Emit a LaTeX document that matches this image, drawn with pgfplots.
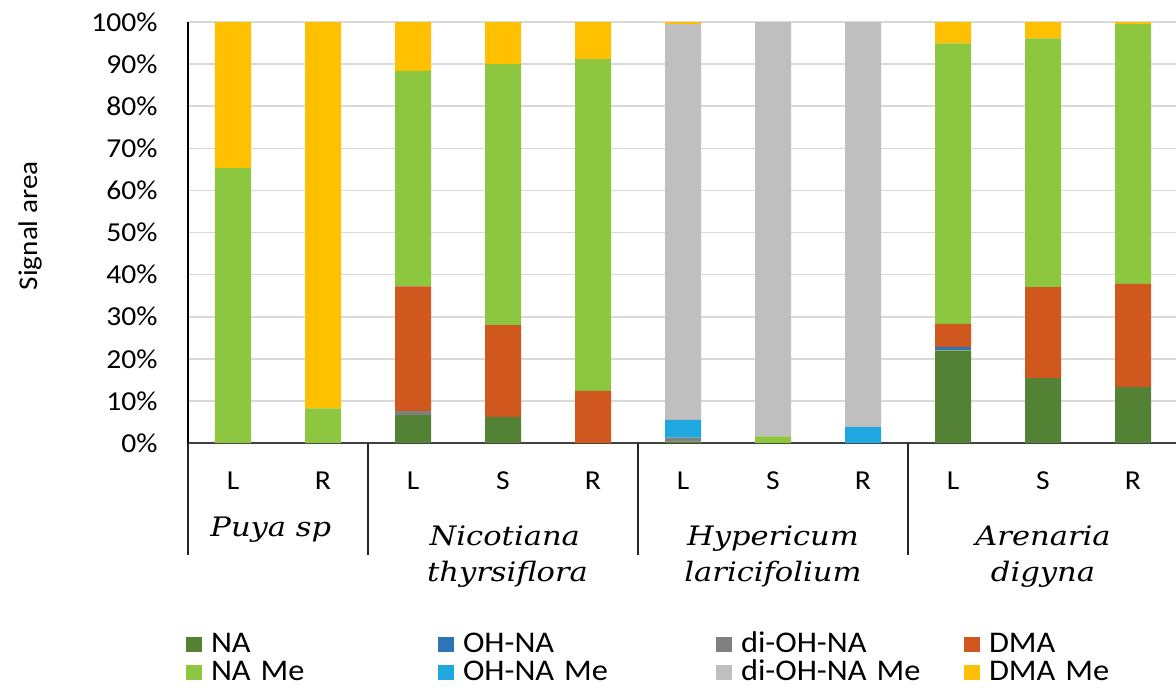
\documentclass[border=0pt]{standalone}
\usepackage{fontspec}
\setmainfont{Carlito}[FakeStretch=1.08]
\newfontfamily\grpfont{DejaVu Serif}[FakeStretch=1.14]
\usepackage{pgfplots}
\pgfplotsset{compat=1.18}
\definecolor{cNA}{HTML}{548235}
\definecolor{cOH}{HTML}{2E75B6}
\definecolor{cdiOH}{HTML}{808080}
\definecolor{cDMA}{HTML}{D0581F}
\definecolor{cNAMe}{HTML}{8DC63F}
\definecolor{cOHMe}{HTML}{1FA8E0}
\definecolor{cdiOHMe}{HTML}{BFBFBF}
\definecolor{cDMAMe}{HTML}{FFC000}
\pgfplotsset{sq/.style={fill=#1, draw=none,
  legend image code/.code={\fill[##1,draw=none] (0pt,0pt) rectangle (8pt,7.5pt);}}}
\newcommand{\tf}{\fontsize{13.7}{16}\selectfont}
\newcommand{\lf}{\fontsize{15}{17}\selectfont}
\newcommand{\gf}{\grpfont\itshape\fontsize{13.4}{15}\selectfont}
\begin{document}
\begin{tikzpicture}
\path[use as bounding box] (0,0) rectangle (588pt,346.5pt);
\begin{axis}[
  at={(94pt,125pt)}, anchor=south west,
  scale only axis, width=495pt, height=210.5pt,
  ybar stacked, bar width=18pt,
  xmin=-0.5, xmax=10.5, ymin=0, ymax=100,
  clip=false,
  axis lines*=left,
  x axis line style={draw=black!75, line width=0.8pt},
  y axis line style={draw=black, line width=0.8pt},
  xtick={0,...,10},
  xticklabels={L,R,L,S,R,L,S,R,L,S,R},
  major tick length=0pt,
  xticklabel style={font=\tf, anchor=base, inner sep=0pt, yshift=-23pt},
  extra x ticks={-0.5,1.5,4.5,7.5},
  extra x tick labels={},
  extra x tick style={major tick length=56pt, tick align=outside,
     tick style={draw=black!85, line width=1pt}},
  ytick={0,10,...,100},
  yticklabels={0\%,10\%,20\%,30\%,40\%,50\%,60\%,70\%,80\%,90\%,100\%},
  yticklabel style={font=\tf, anchor=east, inner sep=0pt, xshift=-15pt},
  ymajorgrids,
  grid style={draw=black!15, line width=0.8pt},
  ylabel={Signal area},
  ylabel style={font=\fontsize{13.5}{16}\selectfont, at={([xshift=-79pt]rel axis cs:0,0.516)}, anchor=center, rotate=0},
  legend columns=4,
  legend style={draw=none, fill=none, at={(0,0)}, anchor=north west,
    xshift=-1pt, yshift=-94.5pt, inner sep=0pt, outer sep=0pt,
    row sep=1pt, column sep=0pt,
    nodes={font=\lf, inner sep=0pt, anchor=base west, align=left, text height=10pt, text depth=3pt},
    /tikz/every odd column/.append style={column sep=4.5pt},
    /tikz/column 2/.style={text width=113.5pt},
    /tikz/column 4/.style={text width=126.5pt},
    /tikz/column 6/.style={text width=111.5pt},
    /tikz/column 8/.style={text width=90pt}},
]
% NA
\addplot[sq=cNA] coordinates {(0,0) (1,0) (2,6.6) (3,6.2) (4,0) (5,0.3) (6,0) (7,0) (8,22.0) (9,15.4) (10,13.3)};
% OH-NA
\addplot[sq=cOH] coordinates {(0,0) (1,0) (2,0) (3,0) (4,0) (5,0) (6,0) (7,0) (8,0.8) (9,0) (10,0)};
% di-OH-NA
\addplot[sq=cdiOH] coordinates {(0,0) (1,0) (2,1.0) (3,0) (4,0) (5,1.0) (6,0) (7,0) (8,0) (9,0) (10,0)};
% DMA
\addplot[sq=cDMA] coordinates {(0,0) (1,0) (2,29.6) (3,21.8) (4,12.4) (5,0) (6,0) (7,0) (8,5.5) (9,21.6) (10,24.5)};
% NA Me
\addplot[sq=cNAMe] coordinates {(0,65.3) (1,8.2) (2,51.2) (3,62.0) (4,78.8) (5,0) (6,1.6) (7,0) (8,66.6) (9,59.1) (10,61.7)};
% OH-NA Me
\addplot[sq=cOHMe] coordinates {(0,0) (1,0) (2,0) (3,0) (4,0) (5,4.2) (6,0) (7,3.8) (8,0) (9,0) (10,0)};
% di-OH-NA Me
\addplot[sq=cdiOHMe] coordinates {(0,0) (1,0) (2,0) (3,0) (4,0) (5,94.0) (6,98.4) (7,96.2) (8,0) (9,0) (10,0)};
% DMA Me
\addplot[sq=cDMAMe] coordinates {(0,34.7) (1,91.8) (2,11.6) (3,10.0) (4,8.8) (5,0.5) (6,0) (7,0) (8,5.1) (9,3.9) (10,0.5)};
\legend{NA,OH-NA,di-OH-NA,DMA,NA Me,OH-NA Me,di-OH-NA Me,DMA Me}
\node[font=\gf, anchor=base] at ([yshift=-46.5pt]axis cs:0.42,0) {Puya sp};
\node[font=\gf, anchor=base] at ([yshift=-51pt]axis cs:3.02,0) {Nicotiana};
\node[font=\gf, anchor=base] at ([yshift=-69pt]axis cs:3.05,0) {thyrsiflora};
\node[font=\gf, anchor=base] at ([yshift=-51pt]axis cs:6,0) {Hypericum};
\node[font=\gf, anchor=base] at ([yshift=-69pt]axis cs:6,0) {laricifolium};
\node[font=\gf, anchor=base] at ([yshift=-51pt]axis cs:9,0) {Arenaria};
\node[font=\gf, anchor=base] at ([yshift=-69pt]axis cs:9,0) {digyna};
\end{axis}
\end{tikzpicture}
\end{document}
